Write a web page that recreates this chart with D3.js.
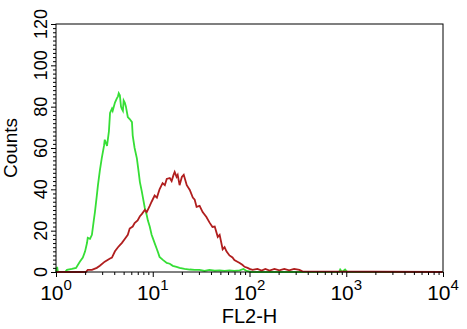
<!DOCTYPE html>
<html>
<head>
<meta charset="utf-8">
<script src="https://cdn.jsdelivr.net/npm/d3@7"></script>
<style>
  body { margin: 0; background: #fff; }
  text { font-family: "Liberation Sans", Arial, sans-serif; fill: #000; }
</style>
</head>
<body>
<div id="chart"></div>
<script>
// Set SVG Area
const svgWidth = 467;
const svgHeight = 329;

const margin = { top: 24, right: 24, bottom: 57, left: 56 };
const chartWidth = svgWidth - margin.left - margin.right;
const chartHeight = svgHeight - margin.top - margin.bottom;

// Histogram data, FL2 channel (0-1023 over 4 decades) and counts
const greenChannels = [0, 3, 5, 24, 29, 42, 53, 63, 71, 77, 82, 84, 90, 95, 100, 103, 108, 111, 116, 121,
  127, 129, 135, 140, 143, 148, 150, 156, 161, 164, 166, 169, 172, 174, 177, 179, 182, 185, 190, 195,
  201, 203, 208, 214, 219, 222, 227, 230, 235, 240, 243, 248, 253, 256, 261, 267, 269, 274, 282, 293,
  301, 309, 319, 327, 340, 354, 367, 380, 393, 406, 420, 433, 446, 459, 472, 486, 496, 504, 517, 749,
  752, 757, 765, 771, 1023];
const greenCounts = [0, 2.5, 0, 0, 1, 1.5, 2, 5, 7, 10, 14, 16.5, 16, 18, 25, 29, 37, 42, 49, 55,
  61, 64, 61, 68, 77, 79, 78, 82, 84, 85, 86.5, 85.5, 80, 79, 78, 83, 82, 80, 75, 74,
  72.5, 66, 60, 55, 48, 43.5, 39, 36, 31, 27.6, 25, 22, 18, 16.5, 14, 11, 10, 7.3, 6, 4.4,
  4, 3, 2.5, 2, 1.5, 1.2, 1, 1, 0.5, 1, 0.6, 0.8, 0.5, 0.8, 0.5, 0.8, 1.5, 0.5, 0, 0,
  1.2, 0, 1.2, 0, 0];

const redChannels = [0, 79, 84, 95, 108, 116, 129, 143, 148, 156, 164, 169, 174, 182, 190, 195, 203, 208, 216, 222,
  227, 235, 240, 248, 253, 261, 267, 274, 282, 288, 293, 301, 306, 311, 314, 319, 322, 327, 333, 338,
  346, 354, 362, 367, 372, 380, 388, 398, 406, 414, 420, 428, 433, 441, 446, 451, 459, 467, 472, 480,
  486, 493, 499, 507, 512, 520, 533, 544, 554, 565, 578, 591, 604, 617, 630, 644, 652, 1023];
const redCounts = [0, 0, 1, 1, 2, 3, 5, 6.5, 7, 10, 12, 13, 14, 16, 18, 21, 22, 23.7, 25, 27,
  28, 30, 29, 32, 34, 37, 36, 40, 43, 42, 45, 45.5, 44, 47, 48.4, 46, 47, 42, 46, 47,
  42, 39.7, 36, 35, 31.5, 32, 29, 26.6, 24, 21.8, 22, 17, 18, 11, 12, 10, 8, 7, 5.8, 5,
  4.4, 3.5, 2.5, 2, 1.5, 1, 1.5, 0.7, 1.5, 0.7, 1.5, 0.8, 1.5, 0.8, 1.5, 1, 0.3, 0];

const yTicks = [0, 20, 40, 60, 80, 100, 120];
const xDecades = [0, 1, 2, 3, 4];

const svg = d3.select("#chart")
  .append("svg")
  .attr("width", svgWidth)
  .attr("height", svgHeight);

const chartG = svg.append("g")
  .attr("transform", `translate(${margin.left}, ${margin.top})`);

// Scales
const x = d3.scaleLog()
  .domain([1, 10000])
  .range([0, chartWidth]);

const y = d3.scaleLinear()
  .domain([0, 120])
  .range([chartHeight, 0]);

const chToValue = ch => Math.pow(10, ch / 256);

// Curves
const line = d3.line()
  .x(d => x(chToValue(d[0])))
  .y(d => y(d[1]));

const plotArea = chartG.append("g");

plotArea.append("path")
  .datum(d3.zip(greenChannels, greenCounts))
  .attr("d", line)
  .attr("fill", "none")
  .attr("stroke", "#36de36")
  .attr("stroke-width", 1.8);

plotArea.append("path")
  .datum(d3.zip(redChannels, redCounts))
  .attr("d", line)
  .attr("fill", "none")
  .attr("stroke", "#b01e1e")
  .attr("stroke-width", 1.8);

// Frame
chartG.append("rect")
  .attr("width", chartWidth)
  .attr("height", chartHeight)
  .attr("fill", "none")
  .attr("stroke", "#000")
  .attr("stroke-width", 1);

// Y axis with minor ticks every 2
const yMinor = d3.range(0, 121, 2);
const yAxisG = chartG.append("g")
  .call(d3.axisLeft(y).tickValues(yMinor).tickSize(3).tickFormat(""));
yAxisG.select(".domain").remove();
yAxisG.selectAll(".tick line")
  .filter(d => d % 20 === 0)
  .attr("x2", -5);

chartG.selectAll(".ylabel")
  .data(yTicks)
  .enter()
  .append("text")
  .attr("class", "ylabel")
  .attr("transform", d => `translate(-9, ${y(d)}) rotate(-90)`)
  .attr("text-anchor", "middle")
  .attr("font-size", 18)
  .text(d => d);

// X axis with log minor ticks
const xMinor = [];
xDecades.forEach(k => {
  for (let m = 1; m <= 9; m++) {
    const v = m * Math.pow(10, k);
    if (v <= 10000) xMinor.push(v);
  }
});
const xAxisG = chartG.append("g")
  .attr("transform", `translate(0, ${chartHeight})`)
  .call(d3.axisBottom(x).tickValues(xMinor).tickSize(3).tickFormat(""));
xAxisG.select(".domain").remove();
xAxisG.selectAll(".tick line")
  .filter(d => Math.abs(Math.log10(d) % 1) < 1e-9)
  .attr("y2", 5);

const xLabels = chartG.selectAll(".xlabel")
  .data(xDecades)
  .enter()
  .append("text")
  .attr("class", "xlabel")
  .attr("x", d => x(Math.pow(10, d)))
  .attr("y", chartHeight + 28)
  .attr("text-anchor", "middle")
  .attr("font-size", 21);
xLabels.append("tspan").text("10");
xLabels.append("tspan")
  .attr("font-size", 15)
  .attr("dy", -10)
  .text(d => d);

// Axis titles
svg.append("text")
  .attr("transform", `translate(17, 148) rotate(-90)`)
  .attr("text-anchor", "middle")
  .attr("font-size", 19)
  .text("Counts");

svg.append("text")
  .attr("x", margin.left + x(100))
  .attr("y", 323)
  .attr("text-anchor", "middle")
  .attr("font-size", 20)
  .text("FL2-H");
</script>
</body>
</html>
